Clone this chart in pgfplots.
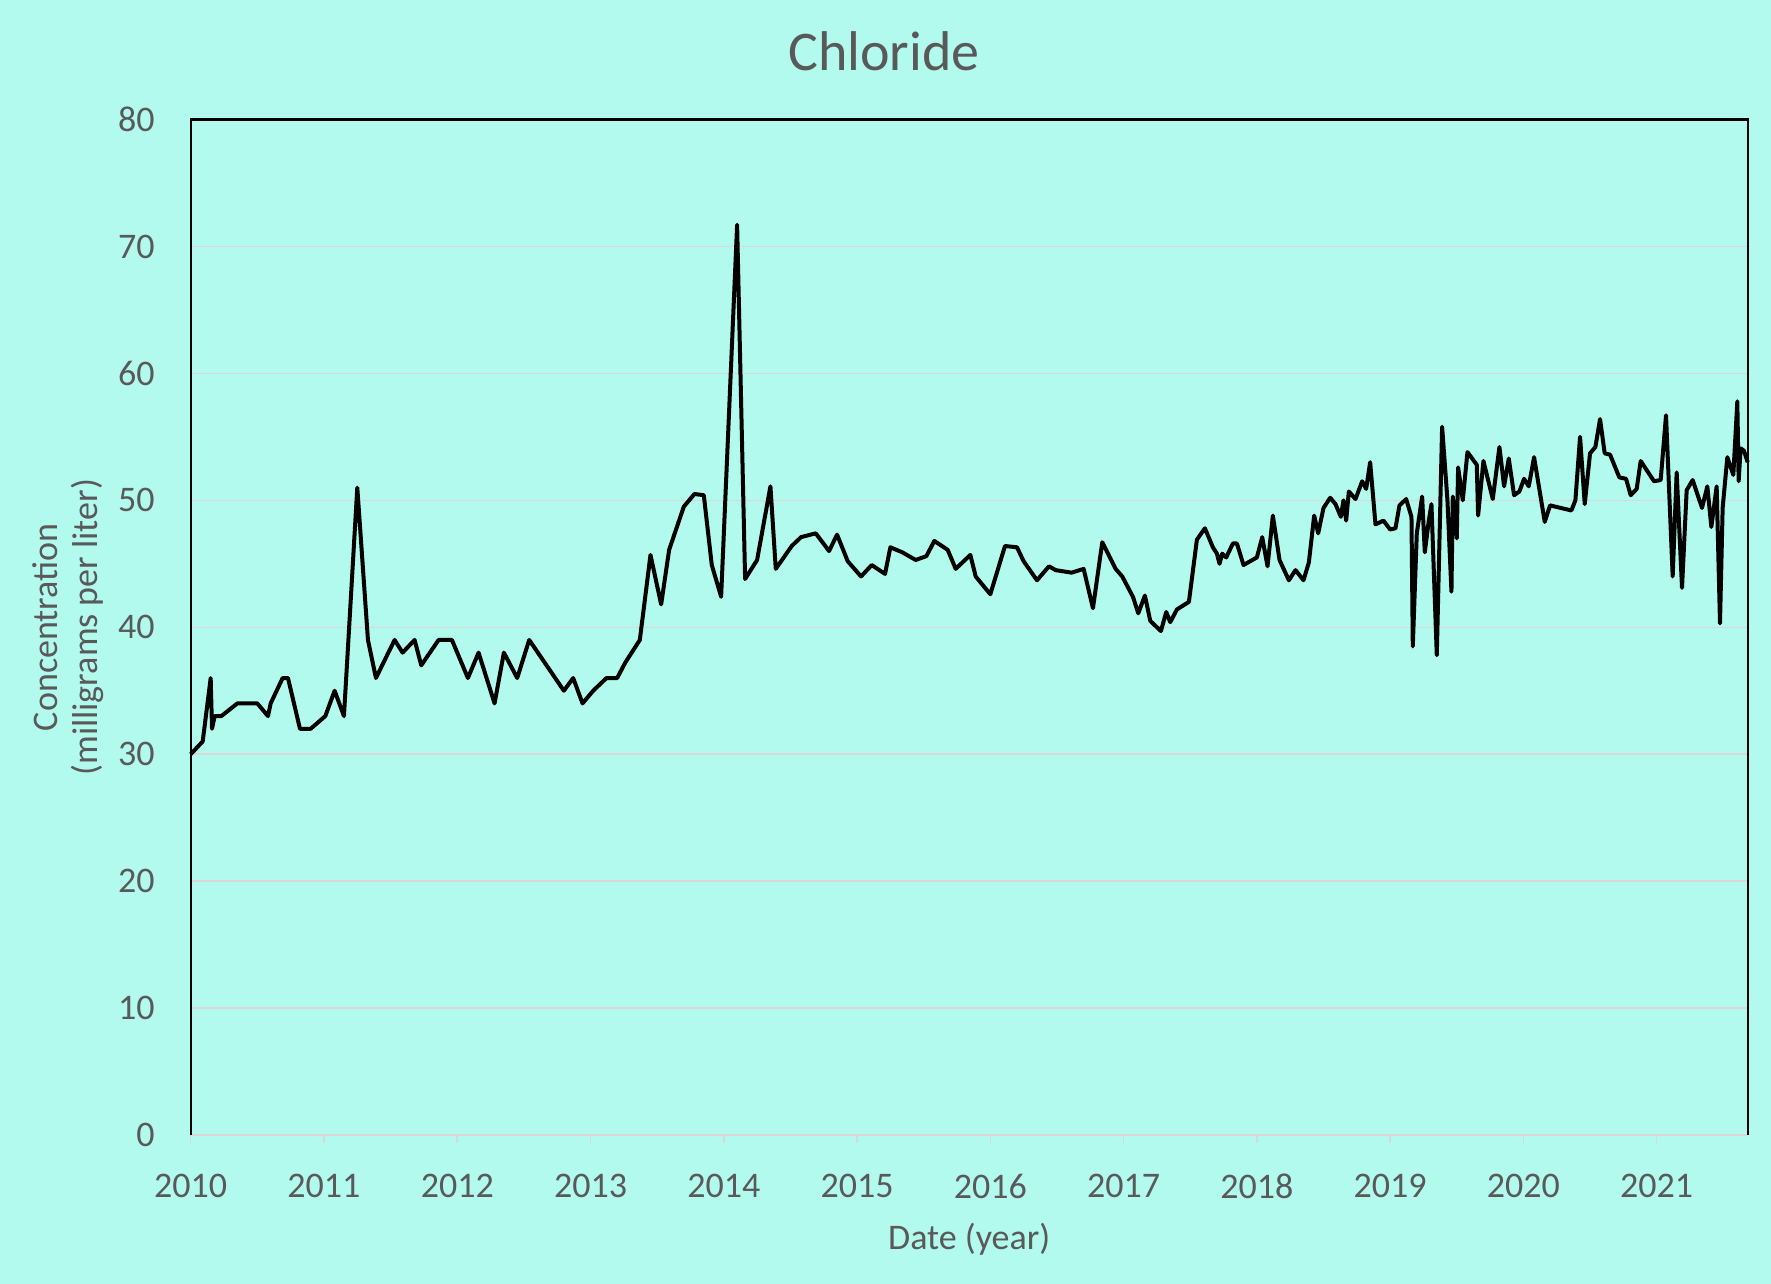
\documentclass[border=0pt]{standalone}
\usepackage{fontspec}
\setmainfont{Carlito}
\usepackage{pgfplots}
\usepackage{pgfplotstable}
\pgfplotsset{compat=1.18}
\definecolor{bg}{RGB}{178,250,238}
\definecolor{txt}{RGB}{89,89,89}
\definecolor{gridc}{RGB}{220,214,216}
\pgfplotstableread{
x y
2010.00 30
2010.09 31
2010.15 36
2010.16 32
2010.18 33
2010.23 33
2010.35 34
2010.50 34
2010.58 33
2010.60 34
2010.69 36
2010.73 36
2010.82 32
2010.90 32
2011.01 33
2011.08 35
2011.15 33
2011.25 51
2011.33 39
2011.39 36
2011.53 39
2011.59 38
2011.68 39
2011.73 37
2011.86 39
2011.96 39
2012.08 36
2012.16 38
2012.28 34
2012.35 38
2012.45 36
2012.54 39
2012.80 35
2012.87 36
2012.94 34
2013.02 35
2013.12 36
2013.20 36
2013.26 37.2
2013.37 39
2013.45 45.7
2013.53 41.8
2013.59 46.1
2013.70 49.5
2013.78 50.5
2013.85 50.4
2013.91 44.9
2013.98 42.4
2014.10 71.7
2014.16 43.8
2014.25 45.3
2014.35 51.1
2014.39 44.6
2014.51 46.4
2014.58 47.1
2014.69 47.4
2014.79 46.0
2014.85 47.3
2014.93 45.2
2015.03 44.0
2015.11 44.9
2015.21 44.2
2015.25 46.3
2015.34 45.9
2015.44 45.3
2015.52 45.6
2015.58 46.8
2015.68 46.1
2015.74 44.6
2015.85 45.7
2015.89 44.0
2016.00 42.6
2016.11 46.4
2016.20 46.3
2016.25 45.2
2016.35 43.7
2016.44 44.8
2016.49 44.5
2016.61 44.3
2016.70 44.6
2016.77 41.5
2016.84 46.7
2016.94 44.6
2016.99 44.0
2017.07 42.4
2017.11 41.1
2017.16 42.5
2017.20 40.5
2017.28 39.7
2017.32 41.2
2017.35 40.4
2017.40 41.4
2017.49 42.0
2017.55 46.9
2017.61 47.8
2017.67 46.3
2017.70 45.8
2017.72 45.0
2017.74 45.8
2017.77 45.5
2017.82 46.6
2017.85 46.6
2017.90 44.9
2017.95 45.2
2018.00 45.5
2018.04 47.1
2018.08 44.8
2018.12 48.8
2018.17 45.3
2018.24 43.7
2018.29 44.5
2018.35 43.7
2018.39 45.1
2018.43 48.8
2018.46 47.4
2018.50 49.4
2018.55 50.2
2018.59 49.7
2018.63 48.7
2018.65 50.0
2018.67 48.4
2018.69 50.7
2018.74 50.1
2018.79 51.5
2018.82 50.9
2018.85 53.0
2018.89 48.1
2018.95 48.4
2019.00 47.7
2019.04 47.8
2019.07 49.6
2019.12 50.1
2019.16 48.7
2019.17 38.5
2019.20 47.4
2019.24 50.3
2019.26 45.9
2019.29 48.4
2019.31 49.7
2019.35 37.8
2019.39 55.8
2019.43 50.0
2019.46 42.8
2019.47 50.3
2019.50 47.0
2019.51 52.6
2019.545 50.0
2019.58 53.8
2019.65 52.8
2019.66 48.8
2019.70 53.1
2019.77 50.1
2019.82 54.2
2019.855 51.1
2019.89 53.3
2019.93 50.4
2019.97 50.7
2020.005 51.7
2020.04 51.1
2020.08 53.4
2020.16 48.3
2020.20 49.6
2020.36 49.2
2020.39 50.0
2020.425 55.0
2020.46 49.7
2020.50 53.7
2020.54 54.2
2020.575 56.4
2020.61 53.7
2020.65 53.6
2020.72 51.8
2020.77 51.7
2020.805 50.4
2020.85 50.9
2020.88 53.1
2020.98 51.5
2021.03 51.6
2021.07 56.7
2021.12 44.0
2021.15 52.2
2021.19 43.1
2021.225 50.8
2021.27 51.6
2021.34 49.4
2021.38 51.1
2021.41 47.9
2021.45 51.1
2021.475 40.3
2021.495 49.4
2021.53 53.4
2021.575 52.0
2021.605 57.8
2021.615 51.5
2021.63 54.1
2021.655 53.9
2021.683 53.0
}\chloride
\begin{document}
\begin{tikzpicture}
\fill[bg] (0,0) rectangle (885.5pt,642pt);
\useasboundingbox (0,0) rectangle (885.5pt,642pt);
\begin{axis}[
  at={(95.35pt,74.5pt)}, anchor=south west, scale only axis,
  width=778.5pt, height=507.75pt,
  xmin=2010, xmax=2021.683, ymin=0, ymax=80,
  xtick={2010,2011,...,2021}, ytick={0,10,...,80},
  xtick pos=lower, ytick pos=left,
  /pgf/number format/1000 sep={},
  /pgf/number format/assume math mode=true,
  axis line style={draw=none},
  ymajorgrids, major grid style={draw=gridc, line width=0.75pt},
  tick align=outside, major tick length=4pt,
  xtick style={draw=gridc, line width=0.75pt},
  ytick style={draw=none},
  tick label style={font=\fontsize{18}{21.6}\selectfont, text=txt},
  xticklabel style={anchor=north, inner sep=0pt, yshift=-15.5pt},
  yticklabel style={anchor=east, inner sep=0pt, xshift=-13.85pt},
  clip=false,
  title={Chloride},
  title style={at={(axis description cs:0.4453,1.036)}, anchor=base, font=\fontsize{28}{33}\selectfont, text=txt, inner sep=0pt},
  xlabel={Date (year)},
  xlabel style={at={(axis description cs:0.5,-0.1123)}, anchor=base, font=\fontsize{18}{21.6}\selectfont, text=txt, inner sep=0pt},
  ylabel={Concentration\\(milligrams per liter)},
  ylabel style={at={(axis description cs:-0.0785,0.5)}, anchor=center, align=center, font=\fontsize{18}{20}\selectfont, text=txt, inner sep=0pt},
]
\addplot[black, line width=2pt, line join=round, no marks] table[x=x, y=y] {\chloride};
\draw[gridc, line width=1pt] (rel axis cs:0,0) -- (rel axis cs:1,0);
\draw[black, line width=1.2pt] (rel axis cs:0,0) -- (rel axis cs:0,1) -- (rel axis cs:1,1) -- (rel axis cs:1,0);
\end{axis}
\end{tikzpicture}
\end{document}
